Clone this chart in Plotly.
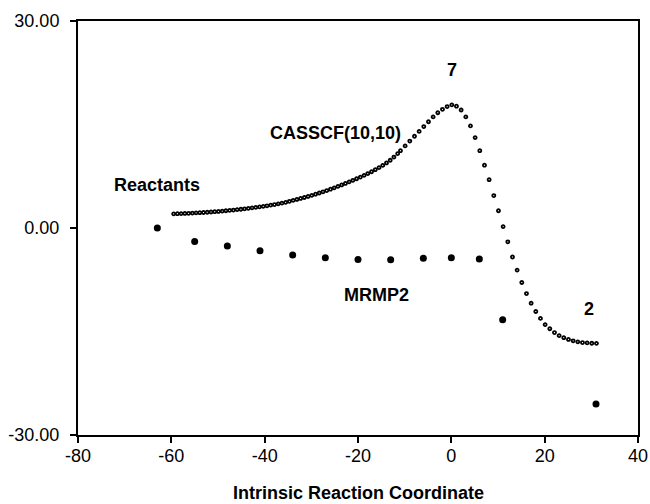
import plotly.graph_objects as go

# CASSCF(10,10) IRC profile (dense points)
casscf_x = [
    -59.5, -58.7, -57.9, -57.1, -56.3, -55.5, -54.7, -53.9, -53.1, -52.3,
    -51.5, -50.7, -49.9, -49.1, -48.3, -47.5, -46.7, -45.9, -45.1, -44.3,
    -43.5, -42.7, -41.9, -41.1, -40.3, -39.5, -38.7, -37.9, -37.1, -36.3,
    -35.5, -34.7, -33.9, -33.1, -32.3, -31.5, -30.7, -29.9, -29.1, -28.3,
    -27.5, -26.7, -25.9, -25.1, -24.3, -23.5, -22.7, -21.9, -21.1, -20.3,
    -19.5, -18.7, -17.9, -17.1, -16.3, -15.5, -14.7, -13.9, -13.1, -12.3,
    -11.5,
    -10.9, -9.9, -8.9, -7.9, -6.9, -5.9, -4.9, -3.9, -2.9, -1.9,
    -0.9, 0.1, 1.1, 2.1, 3.1, 4.1, 5.1, 6.1, 7.1, 8.1,
    9.1, 10.1, 11.1, 12.1, 13.1, 14.1, 15.1, 16.1, 17.1, 18.1,
    19.1, 20.1, 21.1, 22.1, 23.1, 24.1, 25.1, 26.1, 27.1, 28.1,
    29.1, 30.1, 31.1,
]
casscf_y = [
    2.05, 2.07, 2.09, 2.11, 2.13, 2.16, 2.19, 2.22, 2.25, 2.28,
    2.32, 2.36, 2.40, 2.45, 2.50, 2.55, 2.60, 2.66, 2.72, 2.78,
    2.85, 2.92, 2.99, 3.06, 3.14, 3.22, 3.31, 3.40, 3.50, 3.60,
    3.71, 3.87, 4.00, 4.14, 4.28, 4.42, 4.57, 4.73, 4.90, 5.07,
    5.25, 5.43, 5.62, 5.82, 6.03, 6.24, 6.46, 6.68, 6.91, 7.14,
    7.38, 7.63, 7.89, 8.15, 8.45, 8.75, 9.07, 9.43, 9.82, 10.28,
    10.78,
    11.2, 11.9, 12.6, 13.3, 14.0, 14.7, 15.4, 16.1, 16.7, 17.2,
    17.6, 17.85, 17.65, 17.1, 16.1, 14.8, 13.1, 11.2, 9.1, 7.0,
    4.7, 2.5, 0.2, -2.0, -4.2, -6.1, -7.9, -9.5, -10.9, -12.1,
    -13.1, -14.0, -14.6, -15.15, -15.6, -15.9, -16.15, -16.35, -16.5, -16.6,
    -16.65, -16.7, -16.72,
]

# MRMP2 single points
mrmp2_x = [-63, -55, -48, -41, -34, -27, -20, -13, -6, 0, 6, 11, 31]
mrmp2_y = [0.0, -1.95, -2.6, -3.3, -3.9, -4.3, -4.55, -4.6, -4.4, -4.3, -4.5, -13.3, -25.5]

# Labels
label_text = ["Reactants", "CASSCF(10,10)", "7", "MRMP2", "2"]
label_x = [-63.0, -24.9, 0.2, -16.0, 29.6]
label_y = [6.2, 13.8, 22.9, -9.7, -11.8]

x_ticks = [-80, -60, -40, -20, 0, 20, 40]
x_tick_text = ["-80", "-60", "-40", "-20", "0", "20", "40"]
y_ticks = [-30, 0, 30]
y_tick_text = ["-30.00", "0.00", "30.00"]
x_title = "Intrinsic Reaction Coordinate"

FONT = "Arial, Liberation Sans, sans-serif"

fig = go.Figure()
fig.add_trace(go.Scatter(
    x=casscf_x, y=casscf_y, mode="markers", name="CASSCF(10,10)",
    marker=dict(symbol="circle", size=3.0, color="white",
                line=dict(color="black", width=1.8)),
))
fig.add_trace(go.Scatter(
    x=mrmp2_x, y=mrmp2_y, mode="markers", name="MRMP2",
    marker=dict(symbol="circle", size=7, color="black",
                line=dict(color="black", width=0)),
))

for t, xx, yy in zip(label_text, label_x, label_y):
    fig.add_annotation(x=xx, y=yy, text="<b>%s</b>" % t, showarrow=False,
                       font=dict(family=FONT, size=18, color="black"),
                       xanchor="center", yanchor="middle")

# x-axis title placed below tick labels
fig.add_annotation(x=0.5, y=-0.14, xref="paper", yref="paper",
                   text="<b>%s</b>" % x_title, showarrow=False,
                   font=dict(family=FONT, size=18, color="black"),
                   xanchor="center", yanchor="middle")

fig.update_layout(
    width=650, height=504,
    margin=dict(l=78, r=12, t=21, b=69, autoexpand=False),
    paper_bgcolor="white", plot_bgcolor="white",
    showlegend=False,
    font=dict(family=FONT, size=18, color="black"),
)
fig.update_xaxes(
    range=[-80, 40], tickvals=x_ticks, ticktext=x_tick_text, ticks="outside",
    ticklen=6, tickwidth=1.5, automargin=False,
    tickcolor="black", showline=True, linecolor="black", linewidth=2, mirror=True,
    showgrid=False, zeroline=False, ticklabelstandoff=-3,
    tickfont=dict(family=FONT, size=18, color="black"),
)
fig.update_yaxes(
    range=[-30, 30], tickvals=y_ticks, ticktext=y_tick_text, ticks="outside",
    ticklen=6, automargin=False,
    tickwidth=1.5, tickcolor="black", showline=True, linecolor="black", linewidth=2,
    mirror=True, showgrid=False, zeroline=False, ticklabelstandoff=7,
    tickfont=dict(family=FONT, size=18, color="black"),
)

# remove the default page margin so the figure sits at the window's corner
fig.write_html("out.html",
               config={"displayModeBar": False},
               post_script="document.body.style.margin='0px';document.body.style.overflow='hidden';")
